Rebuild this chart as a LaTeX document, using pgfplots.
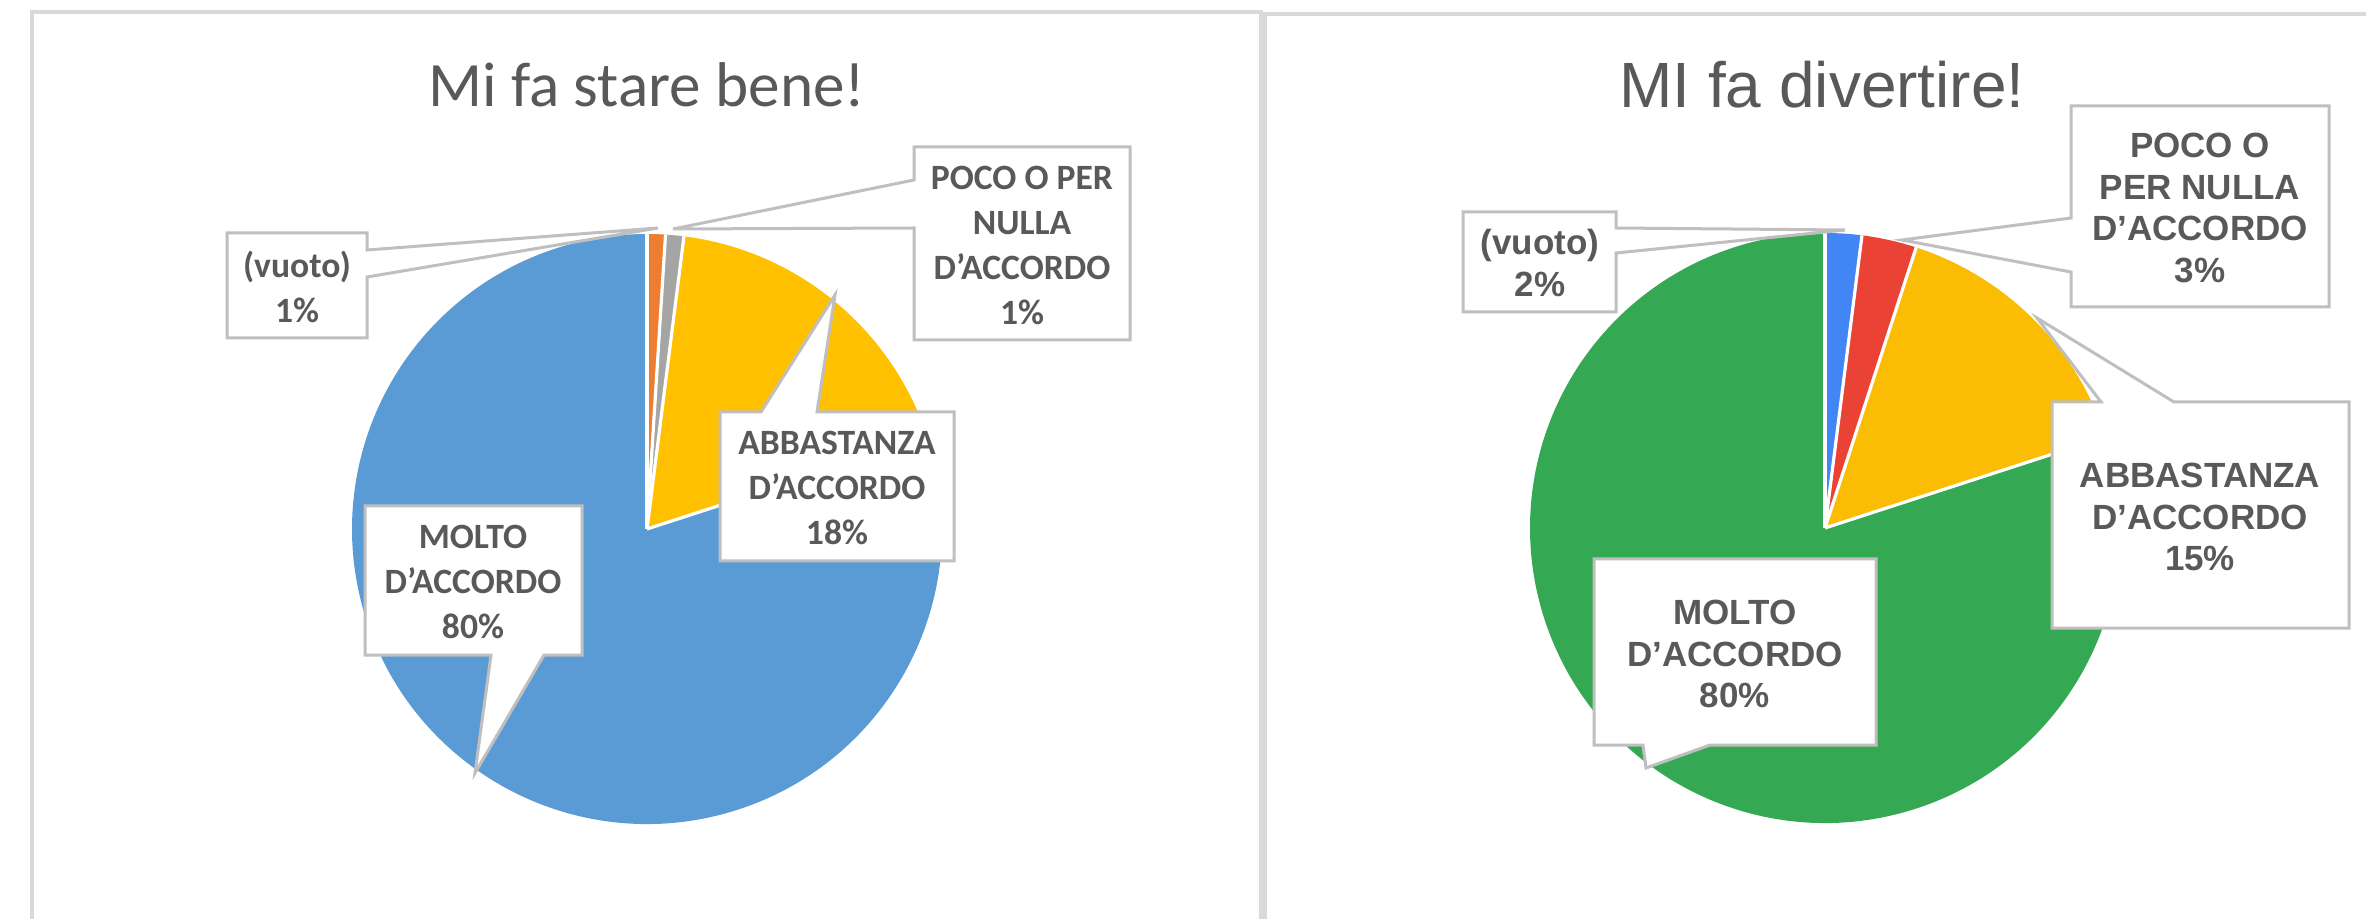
\documentclass[border=0pt]{standalone}
\usepackage{fontspec}
\setmainfont{Carlito}
\newfontfamily\arialf{Liberation Sans}
\usepackage{pgfplots}
\usepackage{pgfplotstable}
\pgfplotsset{compat=1.18}

\definecolor{txt}{HTML}{595959}
\definecolor{frame}{HTML}{D9D9D9}
\definecolor{callout}{HTML}{BFBFBF}
\definecolor{lblue}{HTML}{5B9BD5}
\definecolor{lorange}{HTML}{ED7D31}
\definecolor{lgray}{HTML}{A5A5A5}
\definecolor{lyellow}{HTML}{FFC000}
\definecolor{gblue}{HTML}{4285F4}
\definecolor{gred}{HTML}{EA4335}
\definecolor{gyellow}{HTML}{FBBC04}
\definecolor{ggreen}{HTML}{34A853}

% Mi fa stare bene!  (percent, clockwise from 12 o'clock)
\pgfplotstableread{
value color
1  lorange
1  lgray
18 lyellow
80 lblue
}\leftdata
% MI fa divertire!
\pgfplotstableread{
value color
2  gblue
3  gred
15 gyellow
80 ggreen
}\rightdata

% \pie{table}{cx}{cy}  -- radius 295 px = 73.75pt
\newcommand{\pie}[3]{%
  \def\cum{0}%
  \pgfplotsforeachungrouped \i in {0,...,3}{%
    \pgfplotstablegetelem{\i}{value}\of#1\let\v\pgfplotsretval
    \pgfplotstablegetelem{\i}{color}\of#1\let\c\pgfplotsretval
    \pgfmathsetmacro\as{90-3.6*\cum}%
    \pgfmathsetmacro\cum{\cum+\v}%
    \pgfmathsetmacro\ae{90-3.6*\cum}%
    \edef\temp{\noexpand\fill[\c] (axis cs:#2,#3) -- ++(\as:73.75pt) arc[start angle=\as, end angle=\ae, radius=73.75pt] -- cycle;}%
    \temp
  }%
  \def\cum{0}%
  \pgfplotsforeachungrouped \i in {0,...,3}{%
    \pgfplotstablegetelem{\i}{value}\of#1\let\v\pgfplotsretval
    \pgfmathsetmacro\as{90-3.6*\cum}%
    \pgfmathsetmacro\cum{\cum+\v}%
    \edef\temp{\noexpand\draw[white, line width=0.8pt] (axis cs:#2,#3) -- ++(\as:73.75pt);}%
    \temp
  }%
}

\begin{document}
\begin{tikzpicture}
\begin{axis}[
  scale only axis, width=591.5pt, height=229.75pt,
  xmin=0, xmax=2366, ymin=0, ymax=919, y dir=reverse,
  hide axis, clip=false]

% panel frames
\draw[frame, line width=1pt] (axis cs:32,940) -- (axis cs:32,12) -- (axis cs:1261,12) -- (axis cs:1261,940);
\draw[frame, line width=1pt] (axis cs:1265,940) -- (axis cs:1265,14) -- (axis cs:2400,14);

% pies
\pie{\leftdata}{647}{529}
\pie{\rightdata}{1825}{528}

% titles
\node[anchor=base, text=txt, font=\fontsize{15.8}{18}\selectfont] at (axis cs:647,107) {Mi fa stare bene!};
\node[anchor=base, text=txt, font=\arialf\fontsize{16}{18}\selectfont] at (axis cs:1822,108) {MI fa divertire!};

% left callouts
\tikzset{co/.style={fill=white, draw=callout, line width=0.75pt, line join=miter}}
\draw[co] (axis cs:227,233) -- (axis cs:367,233) -- (axis cs:367,250) -- (axis cs:658,228) -- (axis cs:367,277) -- (axis cs:367,338) -- (axis cs:227,338) -- cycle;
\draw[co] (axis cs:914,147) -- (axis cs:1130,147) -- (axis cs:1130,340) -- (axis cs:914,340) -- (axis cs:914,228) -- (axis cs:673,229) -- (axis cs:914,180) -- cycle;
\draw[co] (axis cs:720,412) -- (axis cs:761,412) -- (axis cs:835,295) -- (axis cs:817,412) -- (axis cs:954,412) -- (axis cs:954,561) -- (axis cs:720,561) -- cycle;
\draw[co] (axis cs:365,506) -- (axis cs:582,506) -- (axis cs:582,655) -- (axis cs:544,655) -- (axis cs:475,773) -- (axis cs:491,655) -- (axis cs:365,655) -- cycle;

\tikzset{ll/.style={align=center, text=txt, inner sep=0pt, font=\bfseries\fontsize{8.9}{11.25}\selectfont}}
\node[ll] at (axis cs:297,287) {(vuoto)\\1\%};
\node[ll] at (axis cs:1022,245) {POCO O PER\\NULLA\\D’ACCORDO\\1\%};
\node[ll] at (axis cs:837,488) {ABBASTANZA\\D’ACCORDO\\18\%};
\node[ll] at (axis cs:473,582) {MOLTO\\D’ACCORDO\\80\%};

% right callouts
\draw[co] (axis cs:1463,212) -- (axis cs:1616,212) -- (axis cs:1616,228) -- (axis cs:1845,230) -- (axis cs:1616,253) -- (axis cs:1616,312) -- (axis cs:1463,312) -- cycle;
\draw[co] (axis cs:2071,106) -- (axis cs:2329,106) -- (axis cs:2329,307) -- (axis cs:2071,307) -- (axis cs:2071,272) -- (axis cs:1902,240) -- (axis cs:2071,218) -- cycle;
\draw[co] (axis cs:2052,402) -- (axis cs:2101,402) -- (axis cs:2037,318) -- (axis cs:2174,402) -- (axis cs:2349,402) -- (axis cs:2349,628) -- (axis cs:2052,628) -- cycle;
\draw[co] (axis cs:1594,559) -- (axis cs:1876,559) -- (axis cs:1876,745) -- (axis cs:1710,745) -- (axis cs:1646,768) -- (axis cs:1643,745) -- (axis cs:1594,745) -- cycle;

\tikzset{rl/.style={align=center, text=txt, inner sep=0pt, font=\arialf\bfseries\fontsize{8.75}{10.4}\selectfont}}
\node[rl] at (axis cs:1540,263) {(vuoto)\\2\%};
\node[rl] at (axis cs:2200,208) {POCO O\\PER NULLA\\D’ACCORDO\\3\%};
\node[rl] at (axis cs:2200,517) {ABBASTANZA\\D’ACCORDO\\15\%};
\node[rl] at (axis cs:1735,654) {MOLTO\\D’ACCORDO\\80\%};
\end{axis}
\pgfresetboundingbox
\path (current axis.south west) rectangle (current axis.north east);
\end{tikzpicture}
\end{document}
